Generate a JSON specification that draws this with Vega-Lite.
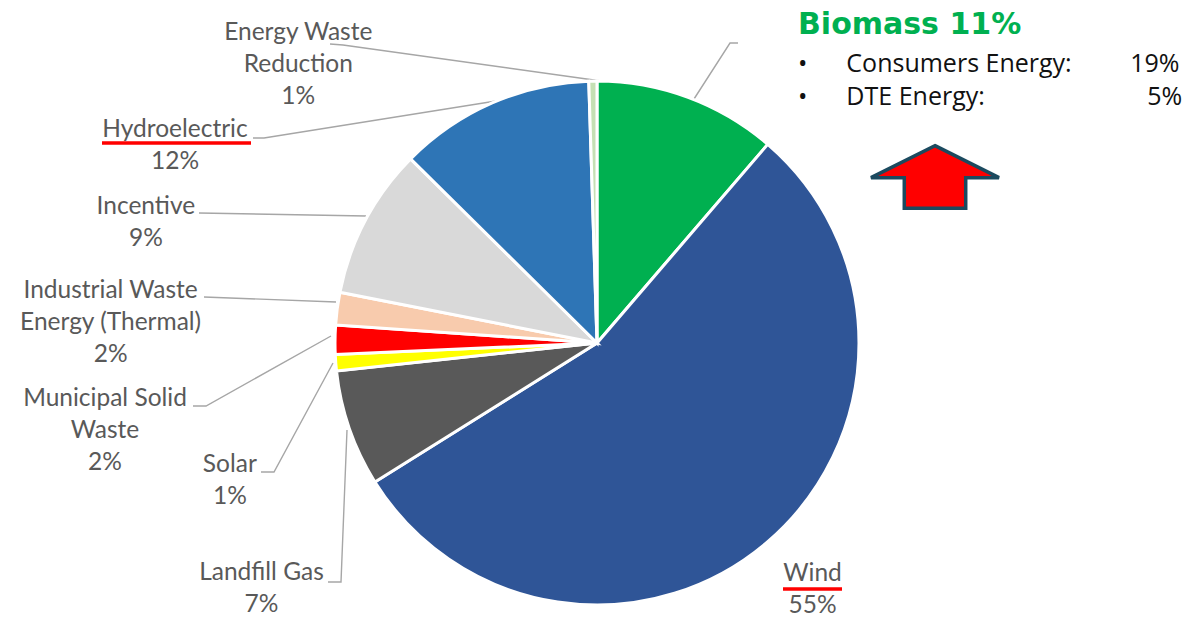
{
  "$schema": "https://vega.github.io/schema/vega-lite/v6.json",
  "width": 1192,
  "height": 462,
  "autosize": {"type": "none"},
  "padding": {"top": 112, "bottom": 43, "left": 1, "right": 1},
  "background": "white",
  "config": {"view": {"stroke": null}},
  "title": {
    "text": "Biomass 11%",
    "subtitle": ["•\u00a0\u00a0\u00a0\u00a0\u00a0\u00a0Consumers Energy:\u00a0\u00a0\u00a0\u00a0\u00a0\u00a0\u00a0\u00a0\u00a019%", "•\u00a0\u00a0\u00a0\u00a0\u00a0\u00a0DTE Energy:\u00a0\u00a0\u00a0\u00a0\u00a0\u00a0\u00a0\u00a0\u00a0\u00a0\u00a0\u00a0\u00a0\u00a0\u00a0\u00a0\u00a0\u00a0\u00a0\u00a0\u00a0\u00a0\u00a0\u00a0\u00a05%"],
    "anchor": "end",
    "align": "left",
    "frame": "group",
    "dx": -395,
    "dy": 95,
    "offset": 2,
    "font": "DejaVu Sans",
    "fontSize": 30,
    "fontWeight": "bold",
    "color": "#00B050",
    "subtitleFont": "Open Sans",
    "subtitleFontSize": 25,
    "subtitleColor": "#111111",
    "subtitleLineHeight": 33,
    "subtitlePadding": 12
  },
  "data": {
    "values": [
      {"cat": "Biomass", "v": 11.3, "label": "Biomass\n11%"},
      {"cat": "Wind", "v": 54.8, "label": "Wind\n55%"},
      {"cat": "Landfill Gas", "v": 7.2, "label": "Landfill Gas\n7%"},
      {"cat": "Solar", "v": 1.0, "label": "Solar\n1%"},
      {"cat": "Municipal Solid Waste", "v": 1.8, "label": "Municipal Solid\nWaste\n2%"},
      {"cat": "Industrial Waste Energy (Thermal)", "v": 2.0, "label": "Industrial Waste\nEnergy (Thermal)\n2%"},
      {"cat": "Incentive", "v": 9.3, "label": "Incentive\n9%"},
      {"cat": "Hydroelectric", "v": 12.1, "label": "Hydroelectric\n12%"},
      {"cat": "Energy Waste Reduction", "v": 0.5, "label": "Energy Waste\nReduction\n1%"}
    ]
  },
  "transform": [{"window": [{"op": "row_number", "as": "k"}]}],
  "layer": [
    {
      "transform": [{"filter": "datum.cat === 'Biomass'"}],
      "mark": {
        "type": "point",
        "shape": "M-267,-299L-254,-298L4,-262M-344,-205L-333,-205L-101,-242M-398,-130L-231,-127M-393,-46L-261,-41M-404,63L-391,63L-266,-7M-336,129L-323,129L-264,20M-269,239L-256,239L-250,87M97,-244L133,-300L141,-300",
        "size": 4,
        "filled": false,
        "stroke": "#A6A6A6",
        "strokeWidth": 1.4,
        "opacity": 1
      },
      "encoding": {}
    },
    {
      "encoding": {
        "theta": {"field": "v", "type": "quantitative", "stack": true},
        "order": {"field": "k", "type": "quantitative"},
        "detail": {"field": "cat", "type": "nominal"}
      },
      "layer": [
        {
          "mark": {"type": "arc", "outerRadius": 262, "stroke": "white", "strokeWidth": 3},
          "encoding": {
            "color": {
              "field": "cat",
              "type": "nominal",
              "legend": null,
              "scale": {
                "domain": ["Biomass", "Wind", "Landfill Gas", "Solar", "Municipal Solid Waste", "Industrial Waste Energy (Thermal)", "Incentive", "Hydroelectric", "Energy Waste Reduction"],
                "range": ["#00B050", "#2F5597", "#595959", "#FFFF00", "#FF0000", "#F8CBAD", "#D9D9D9", "#2E75B6", "#C5E0B4"]
              }
            }
          }
        },
        {
          "mark": {"type": "text", "radius": 300, "dx": 20, "dy": 3, "font": "Lato", "fontSize": 24.5, "lineHeight": 32, "lineBreak": "\n", "color": "#595959", "align": "center", "baseline": "middle"},
          "encoding": {"text": {"condition": {"test": "datum.cat === 'Wind'", "field": "label", "type": "nominal"}, "value": ""}}
        },
        {
          "mark": {"type": "text", "radius": 300, "dx": -52, "dy": 132, "font": "Lato", "fontSize": 24.5, "lineHeight": 32, "lineBreak": "\n", "color": "#595959", "align": "center", "baseline": "middle"},
          "encoding": {"text": {"condition": {"test": "datum.cat === 'Landfill Gas'", "field": "label", "type": "nominal"}, "value": ""}}
        },
        {
          "mark": {"type": "text", "radius": 300, "dx": -68, "dy": 99, "font": "Lato", "fontSize": 24.5, "lineHeight": 32, "lineBreak": "\n", "color": "#595959", "align": "center", "baseline": "middle"},
          "encoding": {"text": {"condition": {"test": "datum.cat === 'Solar'", "field": "label", "type": "nominal"}, "value": ""}}
        },
        {
          "mark": {"type": "text", "radius": 300, "dx": -192, "dy": 60, "font": "Lato", "fontSize": 24.5, "lineHeight": 32, "lineBreak": "\n", "color": "#595959", "align": "center", "baseline": "middle"},
          "encoding": {"text": {"condition": {"test": "datum.cat === 'Municipal Solid Waste'", "field": "label", "type": "nominal"}, "value": ""}}
        },
        {
          "mark": {"type": "text", "radius": 300, "dx": -189, "dy": -13, "font": "Lato", "fontSize": 24.5, "lineHeight": 32, "lineBreak": "\n", "color": "#595959", "align": "center", "baseline": "middle"},
          "encoding": {"text": {"condition": {"test": "datum.cat === 'Industrial Waste Energy (Thermal)'", "field": "label", "type": "nominal"}, "value": ""}}
        },
        {
          "mark": {"type": "text", "radius": 300, "dx": -186, "dy": 4, "font": "Lato", "fontSize": 24.5, "lineHeight": 32, "lineBreak": "\n", "color": "#595959", "align": "center", "baseline": "middle"},
          "encoding": {"text": {"condition": {"test": "datum.cat === 'Incentive'", "field": "label", "type": "nominal"}, "value": ""}}
        },
        {
          "mark": {"type": "text", "radius": 300, "dx": -302, "dy": 62, "font": "Lato", "fontSize": 24.5, "lineHeight": 32, "lineBreak": "\n", "color": "#595959", "align": "center", "baseline": "middle"},
          "encoding": {"text": {"condition": {"test": "datum.cat === 'Hydroelectric'", "field": "label", "type": "nominal"}, "value": ""}}
        },
        {
          "mark": {"type": "text", "radius": 300, "dx": -294, "dy": -10, "font": "Lato", "fontSize": 24.5, "lineHeight": 32, "lineBreak": "\n", "color": "#595959", "align": "center", "baseline": "middle"},
          "encoding": {"text": {"condition": {"test": "datum.cat === 'Energy Waste Reduction'", "field": "label", "type": "nominal"}, "value": ""}}
        }
      ]
    },
    {
      "transform": [{"filter": "datum.cat === 'Biomass'"}],
      "mark": {
        "type": "point",
        "shape": "M-495,-200L-346,-200M186,246L245,246",
        "size": 4,
        "filled": false,
        "stroke": "#FF0000",
        "strokeWidth": 3.5,
        "strokeCap": "butt",
        "opacity": 1
      },
      "encoding": {}
    },
    {
      "transform": [{"filter": "datum.cat === 'Biomass'"}],
      "mark": {
        "type": "point",
        "shape": "M0,-0.49 L1,0.01 L0.48,0.01 L0.48,0.49 L-0.48,0.49 L-0.48,0.01 L-1,0.01 Z",
        "size": 16384,
        "filled": true,
        "fill": "#FF0000",
        "stroke": "#1B4A5F",
        "strokeWidth": 3.5,
        "opacity": 1,
        "xOffset": 338,
        "yOffset": -166
      },
      "encoding": {}
    }
  ]
}
